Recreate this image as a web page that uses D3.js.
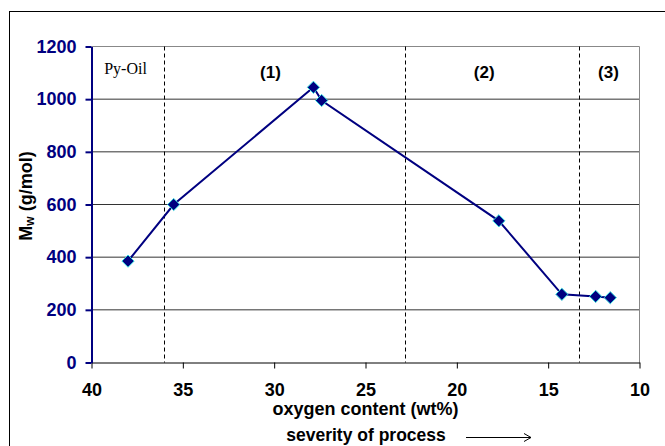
<!DOCTYPE html>
<html>
<head>
<meta charset="utf-8">
<script src="https://cdn.jsdelivr.net/npm/d3@7"></script>
<style>
  body { margin: 0; background: #fff; }
  text { font-family: "Liberation Sans", Arial, sans-serif; }
</style>
</head>
<body>
<script>
// data
var oxygen = [38, 35.5, 27.85, 27.4, 17.7, 14.25, 12.4, 11.6];
var mw = [385, 600, 1045, 995, 538, 259, 251, 246];
var xTicks = [40, 35, 30, 25, 20, 15, 10];
var yTicks = [0, 200, 400, 600, 800, 1000, 1200];
var dividers = [36.05, 22.82, 13.3];
var regionLabels = ["(1)", "(2)", "(3)"];
var regionPos = [30.2, 18.5, 11.7];

var W = 665, H = 446;
var svg = d3.select("body").append("svg").attr("width", W).attr("height", H);

// outer frame (runs off the page like in the picture)
svg.append("rect").attr("x", 9.5).attr("y", 11.5).attr("width", 700).attr("height", 500)
    .style("fill", "none").style("stroke", "#000");

var x = d3.scaleLinear().domain([40, 10]).range([91.5, 639.5]);
var y = d3.scaleLinear().domain([0, 1200]).range([362.5, 46.5]);

// grid
svg.selectAll(".grid").data(yTicks.filter(d => d > 0)).enter().append("line")
    .attr("x1", x(40)).attr("x2", x(10))
    .attr("y1", d => y(d)).attr("y2", d => y(d))
    .style("stroke", d => d == 1200 ? "#888" : "#333").style("stroke-width", 1);
svg.append("line").attr("x1", x(10)).attr("x2", x(10)).attr("y1", y(1200)).attr("y2", y(0))
    .style("stroke", "#888");

// dashed dividers
svg.selectAll(".div").data(dividers).enter().append("line")
    .attr("x1", d => Math.round(x(d)) + 0.5).attr("x2", d => Math.round(x(d)) + 0.5)
    .attr("y1", y(1200)).attr("y2", y(0))
    .style("stroke", "#000").style("stroke-dasharray", "4,3");

// x axis
var xAxis = svg.append("g").attr("transform", "translate(0," + y(0) + ")")
    .call(d3.axisBottom(x).tickValues(xTicks).tickFormat(d3.format("d"))
        .tickSize(6).tickSizeOuter(0).tickPadding(15));
xAxis.attr("font-size", null).attr("font-family", null);
xAxis.select(".domain").style("stroke", "#000");
xAxis.selectAll("line").style("stroke", "#000");
xAxis.selectAll("text").attr("font-size", 18).attr("font-weight", "bold").attr("fill", "#000");

// y axis
var yAxis = svg.append("g").attr("transform", "translate(" + x(40) + ",0)")
    .call(d3.axisLeft(y).tickValues(yTicks).tickFormat(d3.format("d"))
        .tickSize(6).tickSizeOuter(0).tickPadding(9));
yAxis.attr("font-size", null).attr("font-family", null);
yAxis.select(".domain").style("stroke", "#000080").style("stroke-width", 2);
yAxis.selectAll("line").style("stroke", "#000080").style("stroke-width", 2);
yAxis.selectAll("text").attr("font-size", 18).attr("font-weight", "bold").attr("fill", "#000080");

// series
var line = d3.line().x((d, i) => x(oxygen[i])).y(d => y(d));
svg.append("path").datum(mw).attr("d", line)
    .style("fill", "none").style("stroke", "#000080").style("stroke-width", 2);

svg.selectAll(".pt").data(mw).enter().append("path")
    .attr("d", d3.symbol().type(d3.symbolDiamond2).size(95))
    .attr("transform", (d, i) => "translate(" + x(oxygen[i]) + "," + y(d) + ")")
    .style("fill", "#000080").style("stroke", "#33dddd").style("stroke-width", 1);

// region labels
svg.append("text").attr("x", 125.5).attr("y", 74).attr("text-anchor", "middle")
    .style("font-family", "'Liberation Serif', 'Times New Roman', serif").style("font-size", "16px")
    .text("Py-Oil");
svg.selectAll(".reg").data(regionLabels).enter().append("text")
    .attr("x", (d, i) => x(regionPos[i])).attr("y", 78).attr("text-anchor", "middle")
    .style("font-size", "17px").style("font-weight", "bold")
    .text(d => d);

// axis titles
svg.append("text").attr("x", 365.5).attr("y", 415).attr("text-anchor", "middle")
    .style("font-size", "18px").style("font-weight", "bold")
    .text("oxygen content (wt%)");
svg.append("text").attr("x", 366).attr("y", 441).attr("text-anchor", "middle")
    .style("font-size", "17.5px").style("font-weight", "bold")
    .text("severity of process");
svg.append("line").attr("x1", 466).attr("x2", 531).attr("y1", 437.5).attr("y2", 437.5)
    .style("stroke", "#000").style("stroke-width", 1);
svg.append("path").attr("d", "M524,433.5 L531,437.5 L524,441.5")
    .style("fill", "none").style("stroke", "#000").style("stroke-width", 1);

var yt = svg.append("text").attr("transform", "translate(32,196) rotate(-90)")
    .attr("text-anchor", "middle").style("font-size", "18px").style("font-weight", "bold");
yt.append("tspan").text("M");
yt.append("tspan").attr("dy", 2).style("font-size", "12px").text("w");
yt.append("tspan").attr("dy", -2).text(" (g/mol)");
</script>
</body>
</html>
